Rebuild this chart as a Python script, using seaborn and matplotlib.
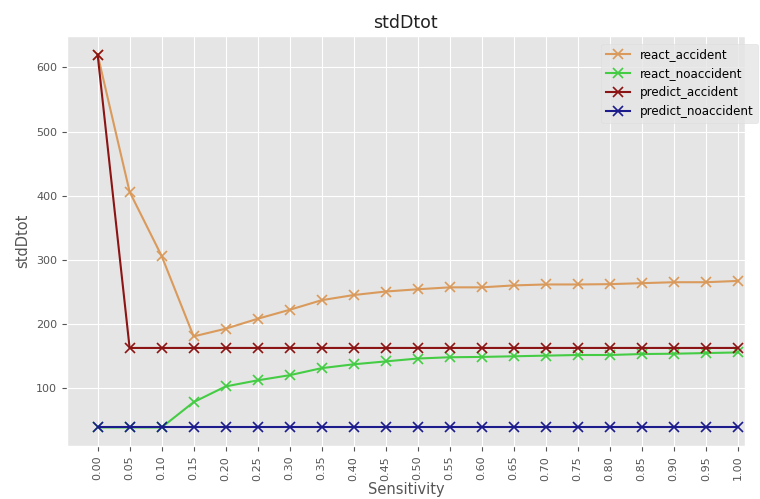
import numpy as np
import pandas as pd
import matplotlib
matplotlib.use("Agg")
import matplotlib.pyplot as plt
import seaborn as sns

sensitivity = [0.00, 0.05, 0.10, 0.15, 0.20, 0.25, 0.30, 0.35, 0.40, 0.45, 0.50,
               0.55, 0.60, 0.65, 0.70, 0.75, 0.80, 0.85, 0.90, 0.95, 1.00]

react_accident = [620, 406, 306, 180.5, 192.5, 208, 222, 237, 245, 250.5, 254,
                  257, 257, 260, 261.5, 261.5, 262, 263.5, 265, 265, 267]
react_noaccident = [38.5, 38.5, 38.5, 78, 102.5, 112, 120, 131, 137, 141.5, 146,
                    148, 148.5, 149.5, 150.5, 151.5, 151.5, 153, 153.5, 154.5, 155.5]
predict_accident = [620, 162.5, 162.5, 162.5, 162.5, 162.5, 162.5, 162.5, 162.5, 162.5, 162.5,
                    162.5, 162.5, 162.5, 162.5, 162.5, 162.5, 162.5, 162.5, 162.5, 162.5]
predict_noaccident = [38.5] * 21

series_names = ["react_accident", "react_noaccident", "predict_accident", "predict_noaccident"]
series_colors = ["#d99a5c", "#45cc45", "#8b1414", "#1c1c8c"]

plt.style.use("ggplot")
fig, ax = plt.subplots(figsize=(7.6, 4.99), dpi=100)
fig.subplots_adjust(left=0.088, right=0.980, top=0.928, bottom=0.106)

series_values = [react_accident, react_noaccident, predict_accident, predict_noaccident]
for name, vals, col in zip(series_names, series_values, series_colors):
    df = pd.DataFrame({"Sensitivity": sensitivity, "stdDtot": vals})
    sns.lineplot(data=df, x="Sensitivity", y="stdDtot", ax=ax, color=col,
                 marker="x", markersize=6.5, mec=col, mew=1.2, lw=1.5,
                 label=name)

ax.set_xlim(-0.048, 1.011)
ax.set_xticks(sensitivity)
ax.set_xticklabels([f"{s:.2f}" for s in sensitivity], rotation=90)
ax.tick_params(axis="both", labelsize=8, colors="#555555",
               length=3.5, width=0.8, direction="out")
ax.set_title("stdDtot", fontsize=12.5, color="#222222")
ax.set_xlabel("Sensitivity", fontsize=10.5, color="#555555", labelpad=1)
ax.set_ylabel("stdDtot", fontsize=10.5, color="#555555")

leg = ax.legend(loc="upper right", bbox_to_anchor=(1.025, 0.99), fontsize=8.6,
                frameon=True, handlelength=2.0, borderaxespad=0.3)
leg.get_frame().set_facecolor("#e5e5e5")
leg.get_frame().set_edgecolor("#dddddd")

fig.savefig("out.png", dpi=100)
